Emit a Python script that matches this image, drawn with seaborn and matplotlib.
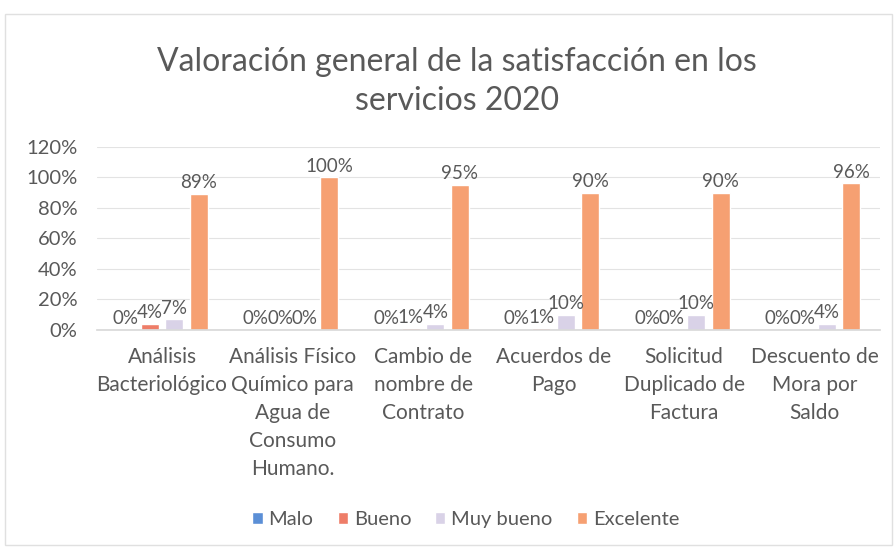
"""Valoración general de la satisfacción en los servicios 2020."""

import matplotlib

matplotlib.use("Agg")

import matplotlib.pyplot as plt
import pandas as pd
import seaborn as sns
from matplotlib.patches import Rectangle
from matplotlib.ticker import FuncFormatter

categories = [
    "Análisis\nBacteriológico",
    "Análisis Físico\nQuímico para\nAgua de\nConsumo\nHumano.",
    "Cambio de\nnombre de\nContrato",
    "Acuerdos de\nPago",
    "Solicitud\nDuplicado de\nFactura",
    "Descuento de\nMora por\nSaldo",
]
series = ["Malo", "Bueno", "Muy bueno", "Excelente"]
malo = [0, 0, 0, 0, 0, 0]
bueno = [4, 0, 1, 1, 0, 0]
muy_bueno = [7, 0, 4, 10, 10, 4]
excelente = [89, 100, 95, 90, 90, 96]
y_ticks = [0, 20, 40, 60, 80, 100, 120]

colors = ["#5B8FD6", "#EE7D68", "#D9D2E7", "#F6A072"]
TEXT = "#595959"


def main() -> None:
    sns.set_theme(style="white")
    plt.rcParams["font.family"] = ["Lato", "DejaVu Sans"]

    rows = []
    for name, values in zip(series, [malo, bueno, muy_bueno, excelente]):
        for cat, val in zip(categories, values):
            rows.append({"servicio": cat, "nivel": name, "valor": val})
    df = pd.DataFrame(rows)

    fig = plt.figure(figsize=(8.96, 5.5), dpi=100)
    ax = fig.add_axes([0.108, 0.4, 0.874, 0.333])

    sns.barplot(
        data=df, x="servicio", y="valor", hue="nivel", hue_order=series,
        palette=colors, width=0.75, gap=0.27, saturation=1, ax=ax, legend=True,
    )

    for container in ax.containers:
        ax.bar_label(container, fmt="%g%%", padding=2, fontsize=13.5, color=TEXT)

    ax.set_ylim(0, 120)
    ax.set_yticks(y_ticks)
    ax.yaxis.set_major_formatter(FuncFormatter(lambda v, _: f"{v:.0f}%"))
    ax.yaxis.grid(True, color="#E3E3E3", linewidth=0.8)
    ax.set_axisbelow(True)
    for side in ["top", "right", "left"]:
        ax.spines[side].set_visible(False)
    ax.spines["bottom"].set_color("#D9D9D9")
    ax.tick_params(axis="both", length=0, colors=TEXT)
    ax.tick_params(axis="y", labelsize=14.5, pad=14)
    ax.tick_params(axis="x", labelsize=15, pad=12)
    for lab in ax.get_xticklabels():
        lab.set_linespacing(1.5)
    ax.set_xlabel("")
    ax.set_ylabel("")

    handles, labels = ax.get_legend_handles_labels()
    ax.get_legend().remove()
    fig.legend(
        handles, labels, loc="center", bbox_to_anchor=(0.52, 0.055), ncol=4,
        frameon=False, fontsize=14.5, handlelength=0.5, handleheight=0.5,
        handletextpad=0.3, columnspacing=1.2, labelcolor=TEXT,
    )

    fig.text(
        0.51, 0.852, "Valoración general de la satisfacción en los\nservicios 2020",
        ha="center", va="center", fontsize=23, color=TEXT, linespacing=1.4,
    )

    fig.patches.append(
        Rectangle((0.006, 0.01), 0.99, 0.965, transform=fig.transFigure,
                  fill=False, edgecolor="#E0E0E0", linewidth=1)
    )

    fig.savefig("out.png", dpi=100)
    plt.close(fig)


if __name__ == "__main__":
    main()
